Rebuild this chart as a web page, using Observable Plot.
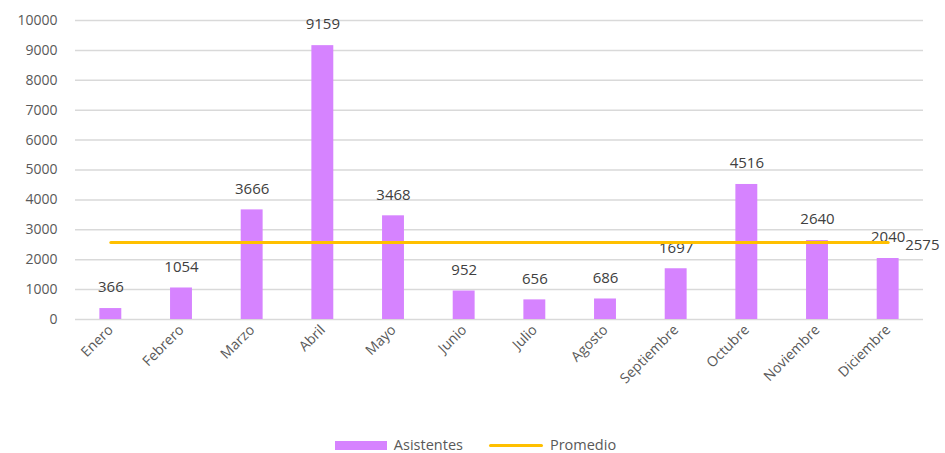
<!DOCTYPE html>
<html><head><meta charset="utf-8">
<script src="https://cdn.jsdelivr.net/npm/d3@7"></script>
<script src="https://cdn.jsdelivr.net/npm/@observablehq/plot@0.6"></script>
<style>
html,body{margin:0;background:#fff;font-family:"Open Sans",sans-serif;overflow:hidden}
#legend{position:absolute;left:6px;right:0;top:437px;display:flex;justify-content:center;align-items:center;height:16px;font-size:14.5px;line-height:16px;color:#595959}
.sw{display:inline-block;margin-right:7px}
</style></head><body>
<div id="chart"></div>
<div id="legend">
<span class="sw" style="width:52px;height:9px;background:#D683FF"></span><span style="margin-right:26px">Asistentes</span>
<span class="sw" style="width:54px;height:3px;background:#FFC000;border-radius:2px"></span><span>Promedio</span>
</div>
<script>
const months = ["Enero","Febrero","Marzo","Abril","Mayo","Junio","Julio","Agosto","Septiembre","Octubre","Noviembre","Diciembre"];
const asistentes = [366,1054,3666,9159,3468,952,656,686,1697,4516,2640,2040];
const promedio = 2575;
const yTicks = [0,1000,2000,3000,4000,5000,6000,7000,8000,9000,10000];

const data = months.map((m,i)=>({month:m, value:asistentes[i]}));
const avgData = months.map(m=>({month:m, value:promedio}));

const chart = Plot.plot({
  width: 945, height: 425,
  marginTop: 20, marginBottom: 106, marginLeft: 75, marginRight: 22,
  style: {fontFamily: "Open Sans, sans-serif", fontSize: "14px", color: "#595959", background: "#fff"},
  x: {domain: months, paddingInner: 0.69, paddingOuter: 0.345, round: false, label: null, tickRotate: -45, tickSize: 0, tickPadding: 8},
  y: {domain: [0,10000], ticks: yTicks, label: null, tickSize: 0, tickPadding: 18, tickFormat: d=>String(d)},
  marks: [
    Plot.gridY(yTicks, {stroke: "#D9D9D9", strokeOpacity: 1, strokeWidth: 1.5}),
    Plot.barY(data, {x: "month", y: "value", fill: "#D683FF"}),
    Plot.text(data, {x: "month", y: "value", text: d=>String(d.value), dy: -21, fill: "#404040", fontSize: 15}),
    Plot.lineY(avgData, {x: "month", y: "value", stroke: "#FFC000", strokeWidth: 3}),
    Plot.text([avgData[avgData.length-1]], {x: "month", y: "value", text: d=>String(d.value), dx: 17, dy: 3, textAnchor: "start", fill: "#404040", fontSize: 15})
  ]
});
document.getElementById("chart").appendChild(chart);
</script>
</body></html>
